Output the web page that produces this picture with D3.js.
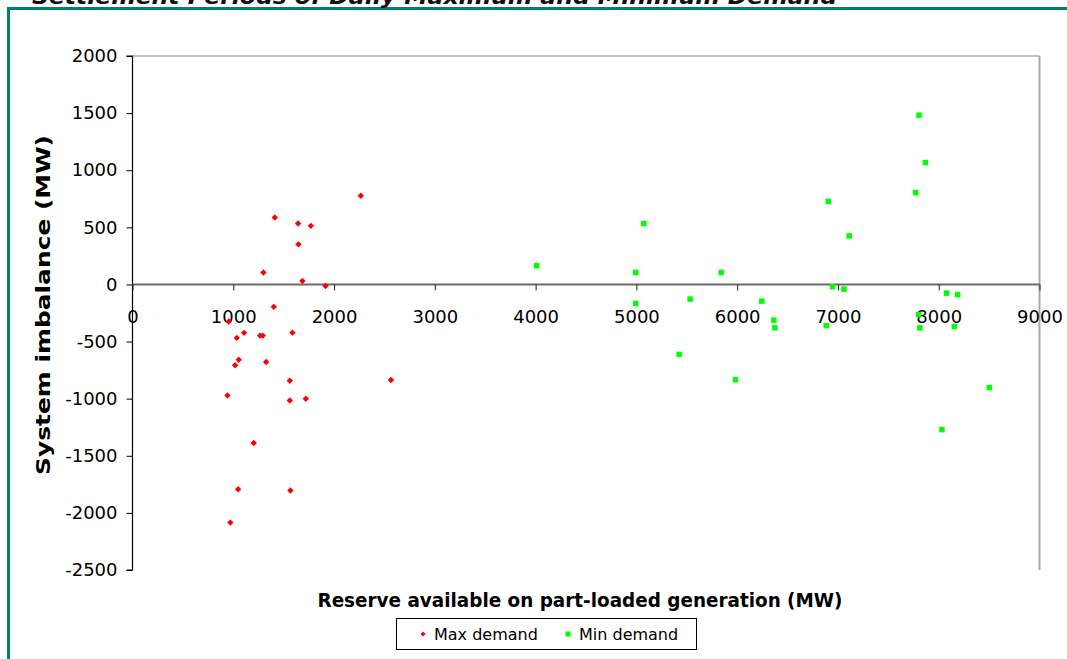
<!DOCTYPE html>
<html>
<head>
<meta charset="utf-8">
<script src="https://cdn.jsdelivr.net/npm/d3@7"></script>
<style>
  html, body { margin: 0; padding: 0; background: #fff; }
  svg { display: block; font-family: "DejaVu Sans", Verdana, sans-serif; }
</style>
</head>
<body>
<svg id="chart" width="1067" height="659"></svg>
<script>
// Settlement periods: reserve on part-loaded generation vs system imbalance
const chartTitle = "Settlement Periods of Daily Maximum and Minimum Demand";
const xTitle = "Reserve available on part-loaded generation (MW)";
const yTitle = "System imbalance (MW)";
const seriesNames = ["Max demand", "Min demand"];

const maxDemandReserve = [2266, 1412, 1643, 1770, 1647, 1299, 1686, 1915, 1402, 955, 1035, 1107, 1266, 1293, 1587,
  1054, 1018, 1326, 1561, 2564, 942, 1561, 1720, 1203, 1048, 1567, 971];
const maxDemandImbalance = [777, 586, 533, 513, 351, 105, 30, -14, -196, -325, -468, -424, -448, -448, -422,
  -659, -708, -679, -843, -837, -972, -1016, -1001, -1388, -1793, -1804, -2085];

const minDemandReserve = [4010, 5073, 4993, 5841, 4993, 5533, 6244, 6364, 6374, 5424, 5983, 7804, 7867, 7771,
  6904, 7112, 6946, 7059, 8078, 8188, 6884, 7800, 7813, 8155, 8502, 8032];
const minDemandImbalance = [164, 533, 105, 105, -167, -128, -146, -313, -380, -612, -835, 1482, 1067, 803,
  727, 425, -20, -41, -76, -88, -360, -264, -380, -369, -902, -1271];

const xTickValues = [0, 1000, 2000, 3000, 4000, 5000, 6000, 7000, 8000, 9000];
const yTickValues = [-2500, -2000, -1500, -1000, -500, 0, 500, 1000, 1500, 2000];

const svg = d3.select("#chart");
const plot = { left: 132.5, right: 1039.5, top: 56, bottom: 570 };

const x = d3.scaleLinear().domain([0, 9000]).range([plot.left, plot.right]);
const y = d3.scaleLinear().domain([-2500, 2000]).range([plot.bottom, plot.top]);
const plainNumber = d => String(d);

// page frame (teal rule at top and left)
svg.append("rect").attr("x", 7).attr("y", 7).attr("width", 1070).attr("height", 3).attr("fill", "#00806E");
svg.append("rect").attr("x", 7).attr("y", 7).attr("width", 3).attr("height", 660).attr("fill", "#00806E");

// title, partly above the frame
svg.append("text")
  .attr("x", 32).attr("y", 4)
  .attr("textLength", 805).attr("lengthAdjust", "spacingAndGlyphs")
  .attr("font-size", 22).attr("font-weight", "bold").attr("font-style", "italic")
  .attr("fill", "#111")
  .text(chartTitle);

// plot area border (top and right)
svg.append("line").attr("x1", plot.left).attr("x2", plot.right).attr("y1", plot.top).attr("y2", plot.top)
  .attr("stroke", "#858585").attr("stroke-width", 1);
svg.append("line").attr("x1", plot.right).attr("x2", plot.right).attr("y1", plot.top).attr("y2", plot.bottom)
  .attr("stroke", "#a8a8a8").attr("stroke-width", 2);

// y axis
const yAxis = svg.append("g")
  .attr("transform", `translate(${plot.left},0)`)
  .call(d3.axisLeft(y).tickValues(yTickValues).tickSize(6).tickPadding(9).tickFormat(plainNumber));
yAxis.select(".domain").attr("stroke", "#000").attr("stroke-width", 1.2).attr("d", `M-6,${plot.top}H0V${plot.bottom}H-6`);
yAxis.selectAll(".tick line").attr("stroke", "#000");
yAxis.selectAll("text").attr("font-size", 18).attr("fill", "#000").attr("font-family", "DejaVu Sans, sans-serif");

// x axis crossing at zero imbalance
const xAxis = svg.append("g")
  .attr("transform", `translate(0,${y(0)})`)
  .call(d3.axisBottom(x).tickValues(xTickValues).tickSize(6).tickPadding(20).tickFormat(plainNumber));
xAxis.select(".domain").attr("stroke", "#6b6b6b").attr("stroke-width", 2).attr("d", `M${plot.left},0H${plot.right}`);
xAxis.selectAll(".tick line").attr("stroke", "#222");
xAxis.selectAll("text").attr("font-size", 18).attr("fill", "#000").attr("font-family", "DejaVu Sans, sans-serif");

// axis titles
svg.append("text")
  .attr("x", 580).attr("y", 607).attr("text-anchor", "middle")
  .attr("textLength", 525).attr("lengthAdjust", "spacingAndGlyphs")
  .attr("font-size", 19).attr("font-weight", "bold").attr("fill", "#000")
  .text(xTitle);
svg.append("text")
  .attr("transform", "translate(50,305) rotate(-90)")
  .attr("text-anchor", "middle")
  .attr("textLength", 340).attr("lengthAdjust", "spacingAndGlyphs")
  .attr("font-size", 20).attr("font-weight", "bold").attr("fill", "#000")
  .text(yTitle);

// markers: red diamonds for max demand, green squares for min demand
const diamondPath = r => `M0,${-r}L${r},0L0,${r}L${-r},0Z`;
const maxPts = maxDemandReserve.map((v, i) => [v, maxDemandImbalance[i]]);
const minPts = minDemandReserve.map((v, i) => [v, minDemandImbalance[i]]);

svg.append("g").selectAll("path").data(maxPts).join("path")
  .attr("d", diamondPath(3.2))
  .attr("transform", d => `translate(${x(d[0])},${y(d[1])})`)
  .attr("fill", "#FF0000");

const sq = 5.5;
svg.append("g").selectAll("rect").data(minPts).join("rect")
  .attr("x", d => x(d[0]) - sq / 2).attr("y", d => y(d[1]) - sq / 2)
  .attr("width", sq).attr("height", sq)
  .attr("fill", "#00FF00");

// legend
const legend = svg.append("g");
legend.append("rect").attr("x", 396.5).attr("y", 618.5).attr("width", 300).attr("height", 31)
  .attr("fill", "#fff").attr("stroke", "#000").attr("stroke-width", 1);
legend.append("path").attr("d", diamondPath(2.5))
  .attr("transform", "translate(423,634)").attr("fill", "#FF0000");
legend.append("text").attr("x", 434).attr("y", 640).attr("font-size", 16).attr("fill", "#000").text(seriesNames[0]);
legend.append("rect").attr("x", 565.5).attr("y", 631.5).attr("width", 5).attr("height", 5).attr("fill", "#00FF00");
legend.append("text").attr("x", 579).attr("y", 640).attr("font-size", 16).attr("fill", "#000").text(seriesNames[1]);
</script>
</body>
</html>
